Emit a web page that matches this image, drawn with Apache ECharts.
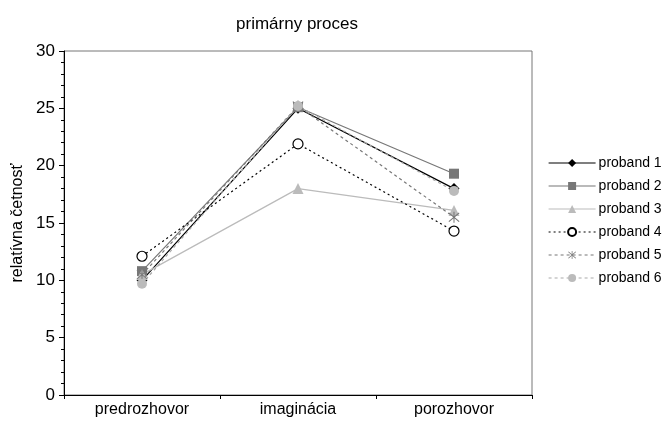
<!DOCTYPE html>
<html>
<head>
<meta charset="utf-8">
<script src="https://cdn.jsdelivr.net/npm/echarts@6/dist/echarts.min.js"></script>
<style>
html, body { margin: 0; padding: 0; background: #fff; }
#main { width: 667px; height: 429px; }
</style>
</head>
<body>
<div id="main"></div>
<script>
// kategórie a hodnoty
var categories = ['predrozhovor', 'imaginácia', 'porozhovor'];
var names = ['proband 1', 'proband 2', 'proband 3', 'proband 4', 'proband 5', 'proband 6'];
var proband1 = [10.0, 25.0, 18.0];
var proband2 = [10.8, 25.1, 19.3];
var proband3 = [10.5, 18.0, 16.1];
var proband4 = [12.1, 21.9, 14.3];
var proband5 = [10.5, 25.2, 15.5];
var proband6 = [9.7, 25.2, 17.8];
var yTicks = [0, 5, 10, 15, 20, 25, 30];

var font = 'Liberation Sans';
// hviezdička (asterisk) ako symbol
var asterisk = 'path://M9.2,0L10.8,0L10.8,20L9.2,20Z' +
    'M2.57,1.43L18.57,17.43L17.43,18.57L1.43,2.57Z' +
    'M1.43,17.43L17.43,1.43L18.57,2.57L2.57,18.57Z';

function serie(name, data, color, lineType, symbol, fill, size) {
    return {
        name: name,
        type: 'line',
        data: data,
        symbol: symbol,
        symbolSize: size || 9,
        lineStyle: { color: color, width: 1.2, type: lineType },
        itemStyle: { color: fill, borderColor: color, borderWidth: fill === '#fff' ? 1.2 : 0 },
        emphasis: { disabled: true },
        animation: false
    };
}

var chart = echarts.init(document.getElementById('main'));
chart.setOption({
    backgroundColor: '#fff',
    animation: false,
    title: {
        text: 'primárny proces',
        left: 292,
        textAlign: 'center',
        top: 11,
        textStyle: { fontFamily: font, fontSize: 17, fontWeight: 'normal', color: '#000' }
    },
    legend: {
        orient: 'vertical',
        left: 543,
        top: 151,
        itemWidth: 47,
        itemHeight: 10,
        itemGap: 9,
        data: names,
        lineStyle: { width: 1.2 },
        textStyle: { fontFamily: font, fontSize: 14, color: '#000', padding: [0, 0, 0, -2] }
    },
    grid: {
        left: 64, right: 135, top: 51, bottom: 34,
        show: true, borderColor: '#777', borderWidth: 1
    },
    xAxis: {
        type: 'category',
        data: categories,
        boundaryGap: true,
        axisLine: { lineStyle: { color: '#000', width: 1 } },
        axisTick: { show: true, length: 4, lineStyle: { color: '#000' } },
        axisLabel: { fontFamily: font, fontSize: 16, color: '#000', margin: 7 },
        splitLine: { show: false }
    },
    yAxis: {
        type: 'value',
        min: yTicks[0],
        max: yTicks[yTicks.length - 1],
        interval: 5,
        name: 'relatívna četnosť',
        nameLocation: 'middle',
        nameRotate: 90,
        nameGap: 38,
        nameTextStyle: { fontFamily: font, fontSize: 16, color: '#000' },
        axisLine: { show: true, lineStyle: { color: '#000', width: 1 } },
        axisTick: { show: true, length: 5, lineStyle: { color: '#000' } },
        minorTick: { show: true, splitNumber: 5, length: 3, lineStyle: { color: '#000' } },
        axisLabel: { fontFamily: font, fontSize: 17, color: '#000', margin: 9 },
        splitLine: { show: false }
    },
    series: [
        serie(names[0], proband1, '#000', 'solid', 'diamond', '#000', 11),
        serie(names[1], proband2, '#777', 'solid', 'rect', '#777', 10),
        serie(names[2], proband3, '#bbb', 'solid', 'triangle', '#bbb', 11),
        serie(names[3], proband4, '#000', [2, 3], 'circle', '#fff', 10),
        serie(names[4], proband5, '#777', [3, 3], asterisk, '#777', 11),
        serie(names[5], proband6, '#aaa', [3, 3], 'circle', '#bbb', 10)
    ]
});
</script>
</body>
</html>
